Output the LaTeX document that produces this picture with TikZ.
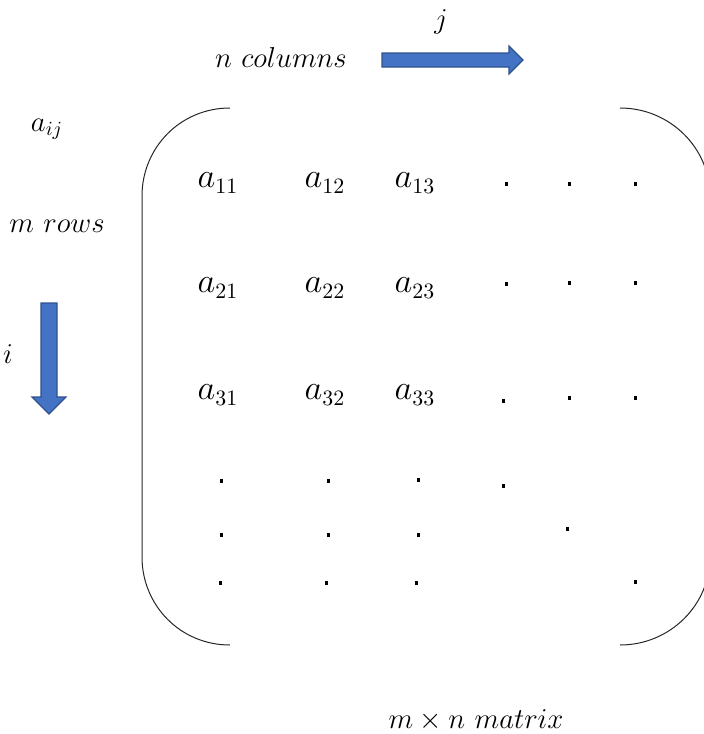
\documentclass[tikz,border=0pt]{standalone}
\usepackage{amsmath}
\usepackage{tikz}
\usetikzlibrary{calc,positioning}

\definecolor{arrowblue}{HTML}{4472C4}
\definecolor{arrowedge}{HTML}{2F528F}

\tikzset{
    lbl/.style={inner sep=0pt, font=\Large},
    entry/.style={inner sep=0pt, font=\fontsize{16}{19}\selectfont},
    blockarrow/.style={fill=arrowblue, draw=arrowedge, line width=0.6pt},
    bracket/.style={draw=black!85, line width=0.5pt}
}

\begin{document}
\begin{tikzpicture}[x=0.5pt,y=-0.5pt]
                  \clip (0,0) rectangle (704,734);
                  % labels
                  \node[lbl] (jlbl) at (441,22) {$j$};
                  \node[lbl] (ncols) at (281,57) {$n\ columns$};
                  \node[lbl] (aij) at (47,129) {$a_{ij}$};
                  \node[lbl] (mrows) at (57,226) {$m\ rows$};
                  \node[lbl] (ilbl) at (8,354) {$i$};
                  \node[lbl] (title) at (476,720) {$m\times n\ matrix$};
                  % block arrows
                  \draw[blockarrow] (382,53) -- (509,53) -- (509,46) -- (523,60)
                      -- (509,74) -- (509,67) -- (382,67) -- cycle;
                  \draw[blockarrow] (41,303) -- (57,303) -- (57,397) -- (66,397)
                      -- (49,414) -- (32,397) -- (41,397) -- cycle;
                  % brackets
                  \draw[bracket] (230,108) .. controls (180,108) and (142,148) .. (142,196)
                      -- (142,557) .. controls (142,605) and (180,645) .. (230,645);
                  \draw[bracket] (620,108) .. controls (670,108) and (710,148) .. (710,196)
                      -- (710,557) .. controls (710,605) and (670,645) .. (620,645);
                  % entries
                  \foreach \r/\y in {1/183,2/288,3/395}{
                      \node[entry] (a\r1) at (218,\y) {$a_{\r1}$};
                      \node[entry] (a\r2) at (325,\y) {$a_{\r2}$};
                      \node[entry] (a\r3) at (415,\y) {$a_{\r3}$};
                  }
                  % dots
                  \foreach \x/\y in {505/186,568/186,634/186,
                                     505/286,568/285,634/285,
                                     502/403,568/400,634/400,
                                     220/483,327/483,417/482,502/488,
                                     220/537,327/537,417/537,566/531,
                                     219/585,325/585,415/585,634/584}{
                      \fill (\x,\y) rectangle ++(3,-4);
                  }
              \end{tikzpicture}
\end{document}
